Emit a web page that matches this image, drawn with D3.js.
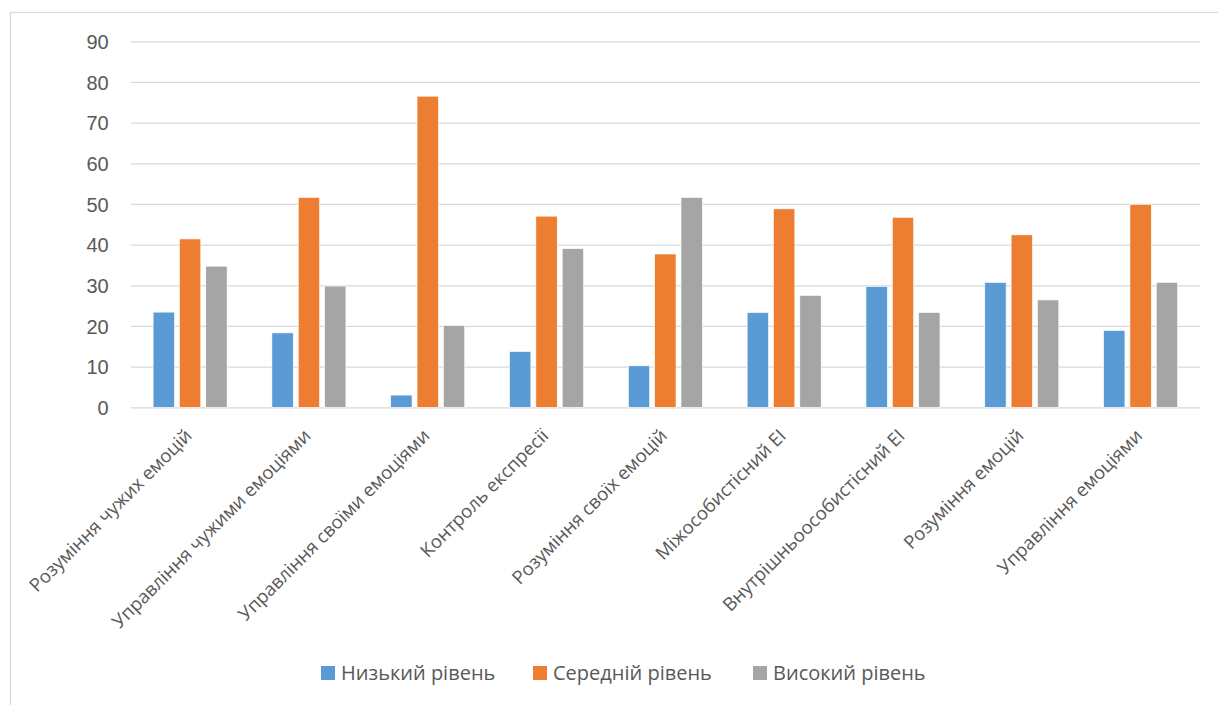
<!DOCTYPE html>
<html>
<head>
<meta charset="utf-8">
<script src="https://cdn.jsdelivr.net/npm/d3@7"></script>
<style>
  body { margin: 0; background: #fff; }
  svg { display: block; font-family: "Open Sans", "Noto Sans", sans-serif; }
</style>
</head>
<body>
<div id="chart"></div>
<script>
// chart data
const categories = [
  "Розуміння чужих емоцій",
  "Управління чужими емоціями",
  "Управління своїми емоціями",
  "Контроль експресії",
  "Розуміння своїх емоцій",
  "Міжособистісний ЕІ",
  "Внутрішньоособистісний ЕІ",
  "Розуміння емоцій",
  "Управління емоціями"
];
const seriesNames = ["Низький рівень", "Середній рівень", "Високий рівень"];
const lowValues = [23.4, 18.3, 3.0, 13.7, 10.2, 23.3, 29.7, 30.7, 18.9];
const midValues = [41.4, 51.6, 76.5, 47.0, 37.7, 48.8, 46.7, 42.4, 49.9];
const highValues = [34.7, 29.8, 20.1, 39.0, 51.6, 27.5, 23.3, 26.4, 30.7];
const yTicks = [0, 10, 20, 30, 40, 50, 60, 70, 80, 90];

const colors = ["#5B9BD5", "#ED7D31", "#A5A5A5"];
const W = 1218, H = 705;
const plot = {left: 130.7, right: 1200, top: 41.3, bottom: 407.3};

const seriesValues = [lowValues, midValues, highValues];
const data = categories.map((c, i) => ({
  cat: c,
  values: seriesNames.map((s, j) => ({series: s, idx: j, value: seriesValues[j][i]}))
}));

const svg = d3.select("#chart").append("svg")
              .attr("width", W)
              .attr("height", H);

// outer chart border
svg.append("rect")
   .attr("x", 10.5).attr("y", 12.5)
   .attr("width", W + 20).attr("height", H + 20)
   .attr("fill", "none")
   .attr("stroke", "#d9d9d9")
   .attr("stroke-width", 1.2);

const x0 = d3.scaleBand()
             .domain(categories)
             .range([plot.left, plot.right])
             .paddingInner(0)
             .paddingOuter(0);

const groupW = 79;
const x1 = d3.scaleBand()
             .domain(seriesNames)
             .range([-groupW / 2, groupW / 2]);

const y = d3.scaleLinear()
            .domain([0, 90])
            .range([plot.bottom, plot.top]);

// gridlines + y labels
const yAxis = d3.axisLeft(y)
                .tickValues(yTicks)
                .tickSize(-(plot.right - plot.left))
                .tickPadding(22)
                .tickFormat(d3.format("d"));

svg.append("g")
   .attr("transform", "translate(" + plot.left + ",0)")
   .call(yAxis)
   .call(g => g.select(".domain").remove())
   .call(g => g.selectAll(".tick line")
               .attr("stroke", "#d9d9d9")
               .attr("stroke-width", 1.3))
   .call(g => g.selectAll(".tick text")
               .attr("fill", "#595959")
               .style("font-size", "20px")
               .attr("dy", "0.36em"));

// bars
svg.append("g")
   .selectAll("g")
   .data(data)
   .enter()
   .append("g")
   .attr("transform", d => "translate(" + (x0(d.cat) + x0.bandwidth() / 2) + ",0)")
   .selectAll("rect")
   .data(d => d.values)
   .enter()
   .append("rect")
   .attr("x", d => x1(d.series) + 2.5)
   .attr("width", x1.bandwidth() - 5)
   .attr("y", d => y(d.value))
   .attr("height", d => y(0) - y(d.value))
   .attr("fill", d => colors[d.idx])
   .attr("stroke", "#fff")
   .attr("stroke-width", 0.6);

// category labels, rotated
svg.append("g")
   .selectAll("text")
   .data(categories)
   .enter()
   .append("text")
   .attr("transform", d => "translate(" + (x0(d) + x0.bandwidth() / 2 + 3) + ",437) rotate(-45)")
   .attr("text-anchor", "end")
   .attr("fill", "#595959")
   .style("font-size", "18.5px")
   .text(d => d);

// legend
const legendX = [321, 533, 753];
const legend = svg.append("g")
                  .selectAll("g")
                  .data(seriesNames)
                  .enter()
                  .append("g")
                  .attr("transform", (d, i) => "translate(" + legendX[i] + ",666)");

legend.append("rect")
      .attr("width", 14)
      .attr("height", 14)
      .attr("fill", (d, i) => colors[i]);

legend.append("text")
      .attr("x", 20)
      .attr("y", 7)
      .attr("dy", "0.36em")
      .attr("fill", "#595959")
      .style("font-size", "20px")
      .text(d => d);
</script>
</body>
</html>
